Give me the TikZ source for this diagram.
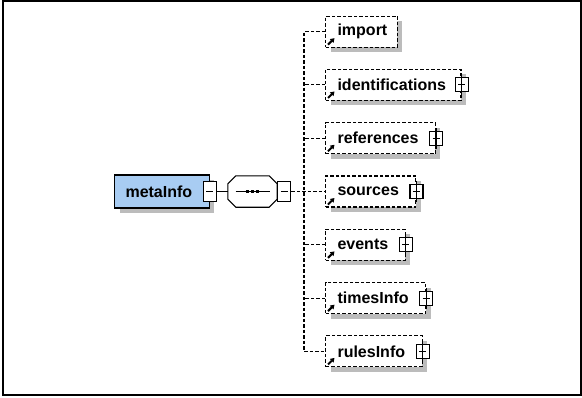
\documentclass[tikz,border=0pt]{standalone}
\usepackage{fontspec}
\setmainfont{Liberation Sans}
\usetikzlibrary{shadows,arrows.meta,calc}
\definecolor{metablue}{RGB}{168,204,242}
\definecolor{shadowgray}{RGB}{188,188,188}
\begin{document}
\begin{tikzpicture}[x=1pt,y=-1pt,
  font=\fontsize{16}{18}\selectfont\bfseries,
  shad/.style={drop shadow={shadow xshift=5pt,shadow yshift=-5pt,fill=shadowgray,opacity=1}},
  elem/.style={draw, line width=1.1pt, rectangle, inner xsep=0pt, inner ysep=0pt, anchor=west, shad},
  metabox/.style={elem, fill=metablue, minimum height=33pt},
  childbox/.style={elem, fill=white, dash pattern=on 3.5pt off 2pt, minimum height=31pt},
  seqframe/.style={inner sep=0pt, minimum width=49pt, minimum height=31pt},
  minusbtn/.style={draw, line width=1.1pt, fill=white, rectangle, inner sep=0pt, minimum width=13pt, minimum height=20pt,
    path picture={\draw[line width=1.1pt] ([xshift=3pt]path picture bounding box.west) -- ([xshift=-3pt]path picture bounding box.east);}},
  plusbtn/.style={draw, line width=1.1pt, fill=white, rectangle, inner sep=0pt, minimum width=13pt, minimum height=14pt,
    path picture={\draw[line width=1.1pt] ([xshift=3pt]path picture bounding box.west) -- ([xshift=-3pt]path picture bounding box.east);
                  \draw[line width=1.1pt] (path picture bounding box.north) -- (path picture bounding box.south);}},
  conn/.style={line width=1.1pt},
  dconn/.style={line width=1.1pt, dash pattern=on 3.5pt off 2pt},
  refarrow/.style={line width=2pt, -{Triangle[length=4pt,width=5pt]}}
]
\useasboundingbox (0,0) rectangle (582,397);
\fill[white] (0,0) rectangle (582,397);
\draw[line width=2pt] (3,1) rectangle (581,395);

% root element
\node[metabox] (meta) at (114,191.5) {\hspace*{11pt}metaInfo\hspace*{17pt}};
\node[minusbtn] (metaminus) at (meta.east) {};

% sequence compositor (octagon)
\node[seqframe] (seq) at (252.5,191.5) {};
\fill[shadowgray, shift={(5,5)}]
  ($(seq.north west)+(8,0)$) -- ($(seq.north east)+(-8,0)$) -- ($(seq.north east)+(0,8)$) -- ($(seq.south east)+(0,-8)$)
  -- ($(seq.south east)+(-8,0)$) -- ($(seq.south west)+(8,0)$) -- ($(seq.south west)+(0,-8)$) -- ($(seq.north west)+(0,8)$) -- cycle;
\filldraw[fill=white, line width=1.1pt]
  ($(seq.north west)+(8,0)$) -- ($(seq.north east)+(-8,0)$) -- ($(seq.north east)+(0,8)$) -- ($(seq.south east)+(0,-8)$)
  -- ($(seq.south east)+(-8,0)$) -- ($(seq.south west)+(8,0)$) -- ($(seq.south west)+(0,-8)$) -- ($(seq.north west)+(0,8)$) -- cycle;
\draw[conn] ($(seq.center)+(-17,0)$) -- ($(seq.center)+(17,0)$);
\foreach \dx in {-5,0,5}{
  \fill ($(seq.center)+(\dx-1.7,-1.7)$) rectangle ($(seq.center)+(\dx+1.7,1.7)$);
}
\node[minusbtn, anchor=west] (seqminus) at (seq.east) {};
\draw[conn] (metaminus.east) -- (seq.west);

% children
\node[childbox] (imp) at (325,31.6)  {\hspace*{12pt}import\hspace*{10pt}};
\node[childbox] (idf) at (325,84.9)  {\hspace*{12pt}identifications\hspace*{15pt}};
\node[childbox] (ref) at (325,138.2) {\hspace*{12pt}references\hspace*{17pt}};
\node[childbox] (src) at (325,191.5) {\hspace*{12pt}sources\hspace*{17pt}};
\node[childbox] (evt) at (325,244.8) {\hspace*{12pt}events\hspace*{17pt}};
\node[childbox] (tim) at (325,298.1) {\hspace*{12pt}timesInfo\hspace*{17pt}};
\node[childbox] (rul) at (325,351.4) {\hspace*{12pt}rulesInfo\hspace*{17pt}};

% reference arrows
\foreach \n in {imp,idf,ref,src,evt,tim,rul}{
  \draw[refarrow] ($(\n.south west)+(3,-3)$) -- ++(6.5,-6.5);
}

% expand buttons
\foreach \n in {idf,ref,src,evt,tim,rul}{
  \node[plusbtn] (\n-plus) at (\n.east) {};
  \draw[conn] (\n-plus.north) -- ++(0,-3);
  \draw[conn] (\n-plus.south) -- ++(0,3);
}

% connectors
\draw[dconn] (seqminus.east) -- (src.west);
\draw[dconn] (imp.west) -- ++(-21,0) |- (rul.west);
\foreach \n in {idf,ref,evt,tim}{
  \draw[dconn] (\n.west) -- ++(-21,0);
}
\end{tikzpicture}
\end{document}
